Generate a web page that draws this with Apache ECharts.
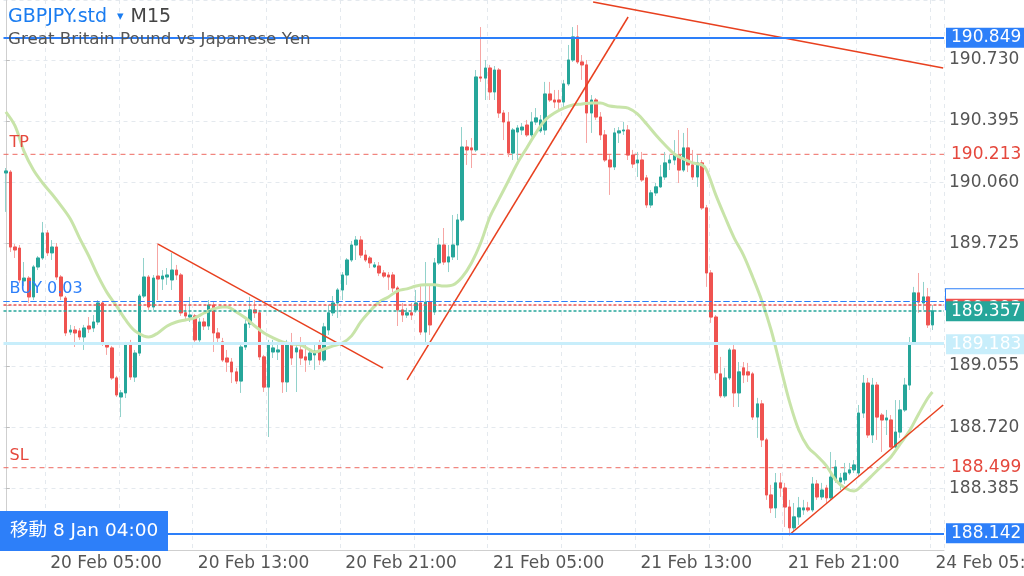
<!DOCTYPE html>
<html>
<head>
<meta charset="utf-8">
<script src="https://cdn.jsdelivr.net/npm/echarts@6.0.0/dist/echarts.min.js"></script>
<style>
  html, body { margin: 0; padding: 0; background: #fff; }
  #chart { width: 1024px; height: 576px; }
</style>
</head>
<body>
<div id="chart"></div>
<script>
// GBPJPY M15 bars
const opens = [190.111,190.116,189.706,189.700,189.521,189.536,189.433,189.597,189.646,189.783,189.674,189.706,189.542,189.427,189.241,189.252,189.247,189.214,189.274,189.263,
  189.296,189.400,189.170,189.154,188.990,188.886,188.908,189.181,188.995,189.126,189.438,189.542,189.378,189.547,189.531,189.542,189.526,189.580,189.553,189.346,
  189.323,189.329,189.198,189.296,189.274,189.389,189.236,189.187,189.099,189.077,189.023,188.973,189.159,189.285,189.362,189.346,189.105,188.940,189.132,189.132,
  189.170,188.968,189.181,189.132,189.143,189.105,189.088,189.116,189.170,189.088,189.252,189.346,189.400,189.471,189.553,189.635,189.717,189.744,189.662,189.646,
  189.597,189.602,189.564,189.553,189.553,189.482,189.362,189.334,189.346,189.362,189.400,189.241,189.405,189.351,189.619,189.717,189.624,189.652,189.717,189.854,
  190.253,190.248,190.237,190.636,190.630,190.685,190.554,190.674,190.439,190.390,190.220,190.335,190.346,190.373,190.319,190.390,190.341,190.346,190.543,190.510,
  190.510,190.499,190.598,190.729,190.855,190.718,190.702,190.439,190.510,190.417,190.319,190.182,190.144,190.330,190.341,190.346,190.209,190.166,190.182,190.084,
  189.936,190.002,190.035,190.089,190.166,190.182,190.209,190.127,190.248,190.155,190.089,190.166,189.920,189.564,189.323,189.012,188.892,188.990,189.143,188.908,
  189.045,189.023,189.012,188.776,188.848,188.651,188.350,188.279,188.416,188.388,188.284,188.170,188.230,188.268,188.279,188.268,188.410,188.339,188.388,188.334,
  188.432,188.421,188.432,188.470,188.487,188.470,188.798,188.962,188.678,188.951,188.787,188.760,188.760,188.612,188.694,188.815,188.951,189.187,189.455,189.400,
  189.433,189.280];
const closes = [190.122,189.706,189.690,189.526,189.536,189.433,189.597,189.646,189.783,189.674,189.706,189.542,189.438,189.236,189.252,189.236,189.214,189.263,189.258,189.296,
  189.400,189.181,189.159,188.990,188.897,188.908,189.181,188.995,189.126,189.438,189.542,189.378,189.536,189.531,189.547,189.553,189.580,189.553,189.346,189.329,
  189.334,189.198,189.296,189.274,189.389,189.236,189.209,189.088,189.077,189.023,188.973,189.159,189.285,189.362,189.346,189.105,188.940,189.181,189.154,189.143,
  188.968,189.181,189.099,189.154,189.099,189.088,189.126,189.137,189.088,189.269,189.346,189.400,189.471,189.553,189.635,189.717,189.744,189.662,189.635,189.619,
  189.608,189.564,189.547,189.542,189.482,189.362,189.334,189.346,189.334,189.400,189.241,189.405,189.280,189.619,189.717,189.624,189.652,189.717,189.854,190.253,
  190.237,190.237,190.636,190.630,190.685,190.554,190.674,190.439,190.390,190.220,190.346,190.357,190.362,190.319,190.390,190.412,190.401,190.543,190.510,190.499,
  190.499,190.598,190.729,190.855,190.718,190.702,190.439,190.510,190.417,190.319,190.182,190.144,190.330,190.341,190.346,190.209,190.160,190.182,190.073,189.936,
  190.002,190.035,190.089,190.166,190.182,190.209,190.127,190.248,190.155,190.089,190.166,189.920,189.564,189.323,189.018,188.892,188.990,189.143,188.908,189.023,
  189.006,189.006,188.776,188.848,188.651,188.350,188.279,188.416,188.388,188.284,188.170,188.230,188.279,188.279,188.268,188.410,188.339,188.377,188.334,188.448,
  188.503,188.443,188.470,188.487,188.514,188.798,188.962,188.678,188.951,188.776,188.760,188.771,188.612,188.694,188.815,188.951,189.181,189.455,189.405,189.433,
  189.280,189.357];
const lows = [189.898,189.679,189.646,189.510,189.493,189.400,189.416,189.580,189.635,189.657,189.635,189.526,189.416,189.219,189.225,189.159,189.198,189.143,189.236,189.241,
  189.280,189.165,189.116,188.979,188.886,188.776,188.880,188.979,188.968,189.110,189.427,189.362,189.362,189.416,189.471,189.499,189.471,189.526,189.329,189.307,
  189.296,189.170,189.170,189.252,189.252,189.132,189.170,189.077,189.023,188.962,188.957,188.908,189.143,189.263,189.318,189.088,188.913,188.667,189.099,189.088,
  188.908,188.913,189.061,188.913,189.061,189.023,189.061,189.034,189.061,189.077,189.225,189.329,189.318,189.416,189.499,189.624,189.635,189.646,189.624,189.591,
  189.591,189.547,189.536,189.471,189.460,189.274,189.296,189.318,189.307,189.346,189.225,189.187,189.225,189.334,189.608,189.608,189.569,189.635,189.635,189.843,
  190.155,190.138,190.226,190.609,190.510,190.510,190.510,190.412,190.291,190.198,190.182,190.182,190.319,190.308,190.308,190.373,190.330,190.319,190.499,190.466,
  190.455,190.466,190.587,190.718,190.707,190.620,190.275,190.330,190.401,190.291,190.171,189.991,190.127,190.275,190.319,190.182,190.138,190.089,190.062,189.920,
  189.920,189.985,190.029,190.073,190.127,190.155,190.056,190.116,190.116,190.073,190.035,189.909,189.488,189.291,188.979,188.881,188.881,188.979,188.831,188.831,
  188.962,188.968,188.760,188.662,188.612,188.323,188.251,188.224,188.339,188.175,188.142,188.148,188.186,188.241,188.257,188.257,188.323,188.323,188.306,188.323,
  188.416,188.377,188.410,188.459,188.470,188.454,188.771,188.662,188.634,188.651,188.585,188.678,188.607,188.607,188.662,188.804,188.924,189.170,189.346,189.362,
  189.263,189.252];
const highs = [190.138,190.127,189.722,189.717,189.624,189.547,189.608,189.657,189.843,189.799,189.744,189.728,189.553,189.438,189.280,189.274,189.263,189.280,189.323,189.334,
  189.416,189.411,189.181,189.165,189.001,188.924,189.187,189.198,189.143,189.449,189.646,189.553,189.553,189.728,189.580,189.591,189.674,189.608,189.564,189.389,
  189.433,189.340,189.318,189.318,189.416,189.405,189.263,189.209,189.143,189.099,189.045,189.170,189.307,189.433,189.416,189.362,189.116,189.198,189.198,189.181,
  189.181,189.198,189.236,189.170,189.214,189.170,189.154,189.170,189.198,189.291,189.389,189.438,189.482,189.569,189.646,189.739,189.766,189.766,189.690,189.657,
  189.624,189.624,189.580,189.569,189.569,189.493,189.400,189.373,189.400,189.471,189.499,189.624,189.499,189.646,189.755,189.810,189.717,189.881,189.887,190.362,
  190.291,190.302,190.674,190.909,190.729,190.702,190.696,190.685,190.455,190.444,190.357,190.373,190.384,190.401,190.444,190.466,190.428,190.609,190.609,190.565,
  190.565,190.620,190.811,190.909,190.920,190.756,190.729,190.537,190.521,190.444,190.346,190.209,190.357,190.362,190.390,190.373,190.237,190.226,190.226,190.100,
  190.018,190.056,190.155,190.226,190.209,190.291,190.346,190.330,190.357,190.237,190.209,190.182,189.936,189.580,189.334,189.105,189.045,189.154,189.170,189.077,
  189.077,189.072,189.023,188.881,188.869,188.662,188.405,188.470,188.470,188.416,188.323,188.306,188.339,188.323,188.312,188.448,188.432,188.416,188.405,188.585,
  188.541,188.470,188.525,188.525,188.541,188.842,189.006,188.990,188.990,188.968,188.798,188.815,188.787,188.869,188.869,188.990,189.214,189.488,189.564,189.515,
  189.482,189.389];

// moving average, sampled along the green curve (bar index, price)
const maIdx = [0,2,4,6,8,10,12,14,16,18,20,22,24,26,28,30,31,33,35,37,39,41,43,45,47,48,50,52,54,56,58,60,62,64,66,67,69,71,73,75,
  77,79,81,83,85,87,89,91,93,95,97,99,101,103,105,107,109,111,113,115,117,119,121,123,125,127,129,131,133,135,
  137,139,141,143,145,147,149,151,152,154,156,158,160,162,164,166,168,170,172,174,176,178,180,182,184,186,188,190,192,194,
  196,198,200,201];
const maVal = [190.445,190.368,190.226,190.127,190.056,189.996,189.931,189.859,189.755,189.657,189.548,189.455,189.384,189.307,189.247,189.219,189.214,189.236,189.274,189.296,
  189.307,189.318,189.345,189.367,189.378,189.378,189.351,189.318,189.274,189.236,189.209,189.187,189.176,189.170,189.143,189.132,189.148,189.165,189.181,189.220,
  189.296,189.356,189.405,189.433,189.466,189.477,189.493,189.499,189.499,189.493,189.499,189.542,189.619,189.728,189.870,189.969,190.067,190.166,190.248,190.330,
  190.401,190.439,190.466,190.483,190.488,190.494,190.494,190.477,190.472,190.466,190.434,190.379,190.319,190.264,190.215,190.188,190.166,190.155,190.127,189.991,
  189.870,189.755,189.662,189.542,189.411,189.252,189.055,188.859,188.705,188.612,188.563,188.509,188.432,188.388,188.372,188.410,188.459,188.509,188.558,188.629,
  188.700,188.793,188.880,188.913];

// hand-drawn trend lines: [startIdx, startPrice, endIdx, endPrice]
const trendLines = [
  [127.39, 191.046, 203.32, 190.685],
  [87.04, 188.979, 134.98, 190.964],
  [33.02, 189.722, 81.83, 189.044],
  [169.91, 188.131, 203.32, 188.842]
];

// take profit / stop loss levels
const tpPrice = 190.213;
const slPrice = 188.499;

const yTickLabels = ['188.385', '188.720', '189.055', '189.725', '190.060', '190.395', '190.730'];

// time axis: 15 minute bars from 20 Feb 02:45, weekend skipped
const slotCount = 204;
const monthNames = ['Jan', 'Feb', 'Mar'];
const times = [];
let t = Date.UTC(2025, 1, 20, 2, 45);
for (let i = 0; i < slotCount; i++) {
  times.push(t);
  t += 15 * 60 * 1000;
  if (new Date(t).getUTCDay() === 6) t += 2 * 24 * 3600 * 1000;
}
const pad = n => (n < 10 ? '0' + n : '' + n);
const categories = times.map(ms => {
  const d = new Date(ms);
  return d.getUTCDate() + ' ' + monthNames[d.getUTCMonth()] + ' ' + pad(d.getUTCHours()) + ':' + pad(d.getUTCMinutes());
});
const isLabelTick = i => {
  const d = new Date(times[i]);
  return d.getUTCMinutes() === 0 && d.getUTCHours() % 8 === 5;
};
const isGridTick = i => {
  const d = new Date(times[i]);
  return d.getUTCMinutes() === 0 && d.getUTCHours() % 4 === 1;
};

const FONT = 'DejaVu Sans';
const BLUE = '#2d7ff9';
const RED = '#ef5350';
const TEAL = '#26a69a';
const TPRED = '#e5483d';

const wickData = opens.map((o, i) => [o, closes[i], lows[i], highs[i]]);
const bodyData = opens.map((o, i) => [o, closes[i], Math.min(o, closes[i]), Math.max(o, closes[i])]);

const boxLabel = (text, bg, fg, dy, border) => ({
  show: true,
  position: 'end',
  distance: 2,
  formatter: text,
  backgroundColor: bg,
  borderColor: border || bg,
  borderWidth: border ? 1 : 0,
  color: fg,
  fontSize: 17,
  fontFamily: FONT,
  padding: [2, 4, 1, 5],
  width: 69,
  offset: [0, dy]
});
const leftLabel = (text, color) => ({
  show: true,
  position: 'insideStartTop',
  distance: [6, 4],
  formatter: text,
  color: color,
  fontSize: 16,
  fontFamily: FONT
});
const rightText = text => ({
  show: true, position: 'end', distance: 7, formatter: text, color: TPRED, fontSize: 17, fontFamily: FONT
});
const clearLine = { color: 'rgba(255,255,255,0)', width: 0.01, type: 'solid' };
const buyLine = { color: BLUE, width: 1, type: [6, 3] };

const levelSeries = price => ({
  type: 'line',
  xAxisIndex: 1,
  data: [[-0.5, price], [slotCount - 0.5, price]],
  symbol: 'none',
  silent: true,
  z: 2,
  lineStyle: { color: '#ee6a61', width: 1, type: [5, 4] }
});

const chart = echarts.init(document.getElementById('chart'));

chart.setOption({
  animation: false,
  textStyle: { fontFamily: FONT },
  grid: { left: 3.5, right: 80, top: 0, bottom: 26.2, outerBoundsMode: 'none', containLabel: false },
  xAxis: [
    {
      type: 'category',
      data: categories,
      boundaryGap: true,
      axisLine: { lineStyle: { color: '#cfcfcf' } },
      axisTick: { interval: isLabelTick, length: 5, lineStyle: { color: '#bdbdbd' } },
      axisLabel: {
        interval: isLabelTick,
        align: 'left',
        padding: [0, 0, 0, 3],
        margin: 5,
        color: '#555',
        fontSize: 17,
        fontFamily: FONT
      },
      splitLine: { show: true, interval: isGridTick, lineStyle: { color: '#e4e9ee', type: [4, 4] } }
    },
    { type: 'value', min: -0.5, max: slotCount - 0.5, show: false }
  ],
  yAxis: {
    type: 'value',
    position: 'right',
    min: 188.050,
    max: 191.057,
    interval: 0.335,
    axisLine: { show: true, lineStyle: { color: '#cfcfcf' } },
    axisTick: { show: true, length: 4, lineStyle: { color: '#bdbdbd' } },
    axisLabel: {
      margin: 5,
      color: '#555',
      fontSize: 17,
      fontFamily: FONT,
      showMinLabel: false,
      showMaxLabel: false,
      formatter: v => {
        const s = v.toFixed(3);
        return yTickLabels.includes(s) ? s : '';
      }
    },
    splitLine: { show: true, lineStyle: { color: '#e4e9ee', type: [4, 4] } }
  },
  series: [
    levelSeries(tpPrice),
    levelSeries(slPrice),
    {
      type: 'candlestick',
      data: wickData,
      barWidth: 3,
      silent: true,
      itemStyle: { color: '#92d2cb', color0: '#f6a6a4', borderColor: '#92d2cb', borderColor0: '#f6a6a4', borderWidth: 1 }
    },
    {
      type: 'candlestick',
      data: bodyData,
      barWidth: 3,
      silent: true,
      itemStyle: { color: TEAL, color0: RED, borderColor: TEAL, borderColor0: RED, borderWidth: 1 },
      markLine: {
        symbol: ['none', 'none'],
        silent: true,
        animation: false,
        data: [
          { yAxis: 189.183, lineStyle: { color: '#c8eefb', width: 3, type: 'solid' }, label: boxLabel('189.183', '#c8eefb', '#fff', 1) },
          { yAxis: tpPrice, lineStyle: clearLine, label: leftLabel('TP', TPRED) },
          { yAxis: tpPrice, lineStyle: clearLine, label: rightText('190.213') },
          { yAxis: slPrice, lineStyle: clearLine, label: leftLabel('SL', TPRED) },
          { yAxis: slPrice, lineStyle: clearLine, label: rightText('188.499') },
          { yAxis: 189.408, lineStyle: buyLine, label: leftLabel('BUY 0.03', BLUE) },
          { yAxis: 189.408, lineStyle: buyLine, label: boxLabel(' ', '#fff', BLUE, -2, BLUE) },
          { yAxis: 189.394, lineStyle: { color: RED, width: 1.5, type: [3, 2] }, label: boxLabel('189.393', RED, '#fff', 4) },
          { yAxis: 189.357, lineStyle: { color: TEAL, width: 1.5, type: [3, 2] }, label: boxLabel('189.357', TEAL, '#fff', 1) },
          { yAxis: 190.849, lineStyle: { color: BLUE, width: 2, type: 'solid' }, label: boxLabel('190.849', BLUE, '#fff', 0) },
          { yAxis: 188.142, lineStyle: { color: BLUE, width: 2, type: 'solid' }, label: boxLabel('188.142', BLUE, '#fff', 0) }
        ]
      }
    },
    {
      type: 'line',
      xAxisIndex: 1,
      data: maIdx.map((x, k) => [x, maVal[k]]),
      smooth: 0.35,
      symbol: 'none',
      silent: true,
      z: 3,
      lineStyle: { color: '#c8e4a9', width: 3 }
    },
    ...trendLines.map(l => ({
      type: 'line',
      xAxisIndex: 1,
      data: [[l[0], l[1]], [l[2], l[3]]],
      symbol: 'none',
      silent: true,
      z: 4,
      lineStyle: { color: '#e8401f', width: 1.5 }
    }))
  ],
  graphic: [
    {
      type: 'text', x: 8, y: 17, z: 100,
      style: {
        text: '{a|GBPJPY.std}{b|▾}{c|M15}',
        verticalAlign: 'middle',
        rich: {
          a: { fill: '#1a7cf0', fontSize: 19, fontFamily: FONT },
          b: { fill: '#1a7cf0', fontSize: 13, fontFamily: FONT, padding: [0, 7, 0, 10] },
          c: { fill: '#444', fontSize: 19, fontFamily: FONT }
        }
      }
    },
    {
      type: 'text', x: 8, y: 40, z: 100,
      style: { text: 'Great Britain Pound vs Japanese Yen', fill: '#555', fontSize: 16.7, fontFamily: FONT, verticalAlign: 'middle' }
    },
    { type: 'rect', z: 100, shape: { x: 0, y: 511, width: 168, height: 40 }, style: { fill: BLUE } },
    {
      type: 'text', x: 10, y: 531, z: 101,
      style: { text: '移動 8 Jan 04:00', fill: '#fff', fontSize: 18.5, fontFamily: "'DejaVu Sans', 'Noto Sans CJK JP'", verticalAlign: 'middle' }
    }
  ]
});
</script>
</body>
</html>
